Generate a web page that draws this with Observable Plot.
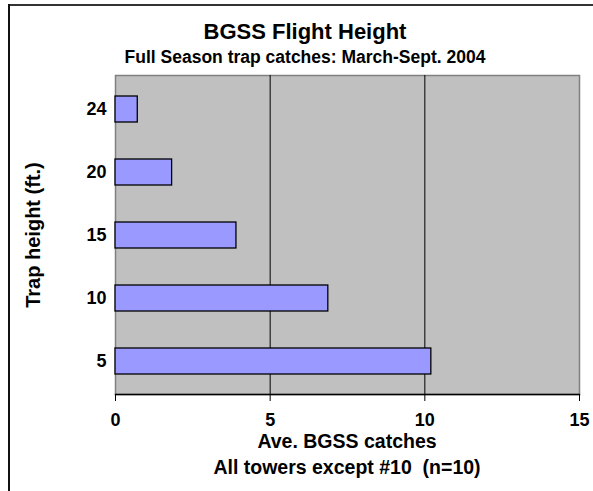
<!DOCTYPE html>
<html>
<head>
<meta charset="utf-8">
<script src="https://cdn.jsdelivr.net/npm/d3@7"></script>
<script src="https://cdn.jsdelivr.net/npm/@observablehq/plot@0.6"></script>
<style>
  html, body { margin: 0; padding: 0; background: #fff; }
  #wrap { position: relative; width: 593px; height: 491px; overflow: hidden;
          font-family: "Liberation Sans", Arial, sans-serif; font-weight: bold; color: #000; }
  #wrap .t { position: absolute; white-space: nowrap; transform: translate(-50%, -50%); line-height: 1; }
  #frameTop { position: absolute; left: 8px; top: 4px; width: 585px; height: 2px; background: #333; }
  #frameLeft { position: absolute; left: 8px; top: 4px; width: 2px; height: 487px; background: #111; }
  #chart { position: absolute; left: 0; top: 0; }
</style>
</head>
<body>
<div id="wrap">
  <div id="chart"></div>
  <div id="frameTop"></div>
  <div id="frameLeft"></div>
  <div class="t" id="title" style="left:305px; top:32px; font-size:22px;">BGSS Flight Height</div>
  <div class="t" id="subtitle" style="left:305px; top:58px; font-size:17.5px;">Full Season trap catches: March-Sept. 2004</div>
  <div class="t" id="xlab1" style="left:347px; top:442px; font-size:19.5px;">Ave. BGSS catches</div>
  <div class="t" id="xlab2" style="left:347px; top:468px; font-size:19.5px;">All towers except #10&nbsp;&nbsp;(n=10)</div>
  <div class="t" id="ylab" style="left:33px; top:235px; font-size:20px; transform: translate(-50%, -50%) rotate(-90deg);">Trap height (ft.)</div>
</div>
<script>
const heights = ["24", "20", "15", "10", "5"];
const catches = [0.72, 1.83, 3.91, 6.88, 10.21];
const xTicks = [0, 5, 10, 15];
const gridValues = [5, 10];

const data = heights.map((h, i) => ({height: h, value: catches[i]}));

const chart = Plot.plot({
  width: 593,
  height: 491,
  marginLeft: 115,
  marginRight: 14,
  marginTop: 75,
  marginBottom: 97,
  style: {fontFamily: "'Liberation Sans', Arial, sans-serif", fontWeight: "bold", background: "transparent", color: "#000"},
  x: {domain: [0, 15], ticks: xTicks, label: null},
  y: {domain: heights, paddingInner: 0.59, paddingOuter: 0.295, label: null},
  marks: [
    Plot.frame({fill: "#C0C0C0", stroke: "#808080", strokeWidth: 1.5}),
    Plot.ruleX(gridValues, {stroke: "#000", strokeWidth: 1}),
    Plot.barX(data, {x: "value", y: "height", fill: "#9999FF", stroke: "#000", strokeWidth: 1.3}),
    Plot.frame({anchor: "bottom", stroke: "#000", strokeWidth: 1.3}),
    Plot.axisX({ticks: xTicks, tickSize: 7, tickPadding: 12, fontSize: 18, fontWeight: "bold", label: null, stroke: "#000"}),
    Plot.axisY({tickSize: 0, tickPadding: 9, fontSize: 18, fontWeight: "bold", label: null})
  ]
});
document.getElementById("chart").appendChild(chart);
</script>
</body>
</html>
